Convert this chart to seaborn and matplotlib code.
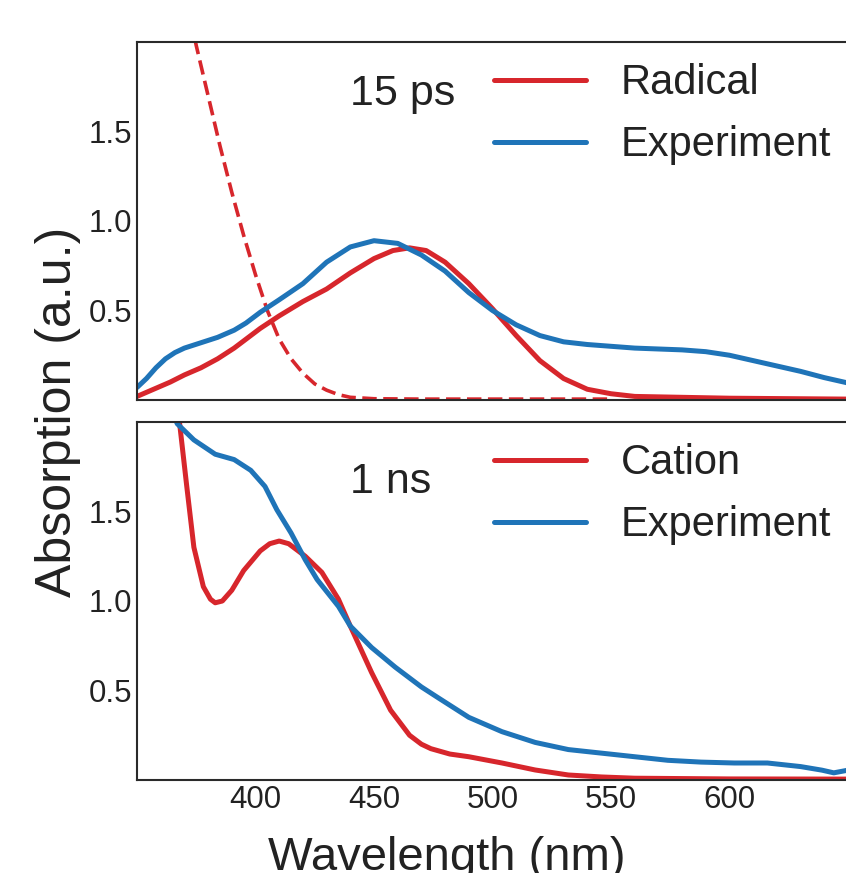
# transient absorption: 15 ps radical vs 1 ns cation spectra
import seaborn as sns
import matplotlib.pyplot as plt
import pandas as pd

# --- 15 ps panel ---
wl_top_exp = [350, 354, 358, 362, 366, 370, 377, 384, 391, 396, 402, 410, 420, 430, 440, 450,
              460, 470, 480, 490, 500, 510, 520, 530, 540, 550, 560, 570, 580, 590,
              600, 610, 620, 630, 640, 650]
abs_top_exp = [0.07, 0.12, 0.18, 0.23, 0.265, 0.29, 0.32, 0.35, 0.39, 0.43, 0.49, 0.56, 0.65, 0.77, 0.855, 0.89,
               0.875, 0.81, 0.72, 0.60, 0.50, 0.42, 0.36, 0.325, 0.31, 0.30, 0.29, 0.285, 0.28, 0.27,
               0.25, 0.22, 0.19, 0.16, 0.125, 0.095]

wl_radical = [350, 357, 364, 370, 377, 384, 391, 396, 402, 410, 420, 430, 440, 450,
              458, 465, 472, 480, 490, 500, 510, 520, 530, 540, 550, 560, 580, 600, 650]
abs_radical = [0.02, 0.06, 0.10, 0.14, 0.18, 0.23, 0.29, 0.34, 0.40, 0.47, 0.55, 0.62, 0.71, 0.79,
               0.835, 0.85, 0.835, 0.77, 0.65, 0.51, 0.36, 0.22, 0.12, 0.06, 0.035, 0.02, 0.015, 0.01, 0.005]

# dashed red curve (short-wavelength band)
wl_radical_uv = [370, 375, 380, 385, 390, 395, 400, 405, 410, 415, 420, 425, 430, 435, 440,
                 450, 470, 500, 550]
abs_radical_uv = [2.3, 1.98, 1.7, 1.42, 1.16, 0.92, 0.70, 0.50, 0.34, 0.23, 0.15, 0.09, 0.055, 0.03, 0.015,
                  0.007, 0.005, 0.005, 0.005]

# --- 1 ns panel ---
wl_bot_exp = [365, 367, 374, 383, 391, 398, 404, 409, 415, 421, 426, 435, 440, 449, 459,
              470, 477, 490, 504, 518, 532, 546, 560, 574, 588, 602, 616, 630, 639, 644, 650]
abs_bot_exp = [2.05, 1.99, 1.90, 1.82, 1.79, 1.73, 1.64, 1.51, 1.38, 1.23, 1.12, 0.97, 0.86, 0.74, 0.63,
               0.52, 0.46, 0.35, 0.27, 0.21, 0.17, 0.15, 0.13, 0.11, 0.10, 0.095, 0.095, 0.075, 0.055, 0.04, 0.055]

wl_cation = [366, 368, 371, 374, 378, 381, 383, 386, 390, 395, 402, 406, 410, 414, 421, 428, 435, 440,
             449, 457, 465, 470, 474, 482, 490, 504, 518, 532, 546, 560, 600, 650]
abs_cation = [2.15, 1.99, 1.64, 1.30, 1.08, 1.01, 0.99, 1.0, 1.06, 1.17, 1.28, 1.32, 1.335, 1.32, 1.25, 1.16, 1.01, 0.86,
              0.60, 0.39, 0.25, 0.20, 0.175, 0.145, 0.13, 0.095, 0.056, 0.028, 0.017, 0.01, 0.006, 0.005]

yticks = [0.5, 1.0, 1.5]
ytick_labels = ['0.5', '1.0', '1.5']
xticks = [400, 450, 500, 550, 600]

red = '#d7262c'
blue = '#1f74b8'

sns.set_style('white')
plt.rcParams['font.family'] = ['Liberation Sans', 'DejaVu Sans']

fig = plt.figure(figsize=(8.46, 8.73), dpi=100)
ax1 = fig.add_axes([137/846, 1-400/873, 711/846, 358/873])
ax2 = fig.add_axes([137/846, 1-780/873, 711/846, 358/873])

sns.lineplot(x=wl_radical_uv, y=abs_radical_uv, ax=ax1, color=red, lw=2.6,
             linestyle=(0, (4, 1.8)))
sns.lineplot(x=wl_radical, y=abs_radical, ax=ax1, color=red, lw=3.6, label='Radical')
sns.lineplot(x=wl_top_exp, y=abs_top_exp, ax=ax1, color=blue, lw=3.6, label='Experiment')

sns.lineplot(x=wl_cation, y=abs_cation, ax=ax2, color=red, lw=3.6, label='Cation')
sns.lineplot(x=wl_bot_exp, y=abs_bot_exp, ax=ax2, color=blue, lw=3.6, label='Experiment')

for ax in (ax1, ax2):
    for ln in ax.get_lines():
        ln.set_solid_joinstyle('round')
    ax.set_xlim(350, 650)
    ax.set_ylim(0, 2.0)
    ax.set_yticks(yticks)
    ax.set_yticklabels(ytick_labels)
    ax.set_xticks(xticks)
    ax.tick_params(length=0, pad=3.6, labelsize=22.5, colors='#222222')
    ax.set_xlabel('')
    ax.set_ylabel('')
    for s in ax.spines.values():
        s.set_color('#2a2a2a')
        s.set_linewidth(1.5)
    leg = ax.legend(loc='upper left', bbox_to_anchor=(0.502, 0.94), frameon=False,
                    fontsize=30, handlelength=2.2, handletextpad=0.85,
                    labelspacing=0.52, borderpad=0, borderaxespad=0)
    for t in leg.get_texts():
        t.set_color('#222222')

ax1.text(0.299, 0.824, '15 ps', transform=ax1.transAxes, fontsize=31,
         va='baseline', ha='left', color='#222222')
ax2.text(0.299, 0.802, '1 ns', transform=ax2.transAxes, fontsize=31,
         va='baseline', ha='left', color='#222222')
ax1.tick_params(labelbottom=False)

fig.text(58/846, 1-412/873, 'Absorption (a.u.)', rotation=90, fontsize=36,
         ha='center', va='center', color='#222222')
fig.text(447/846, 3/873, 'Wavelength (nm)', fontsize=34,
         ha='center', va='baseline', color='#222222')

fig.savefig('out.png', dpi=100)
